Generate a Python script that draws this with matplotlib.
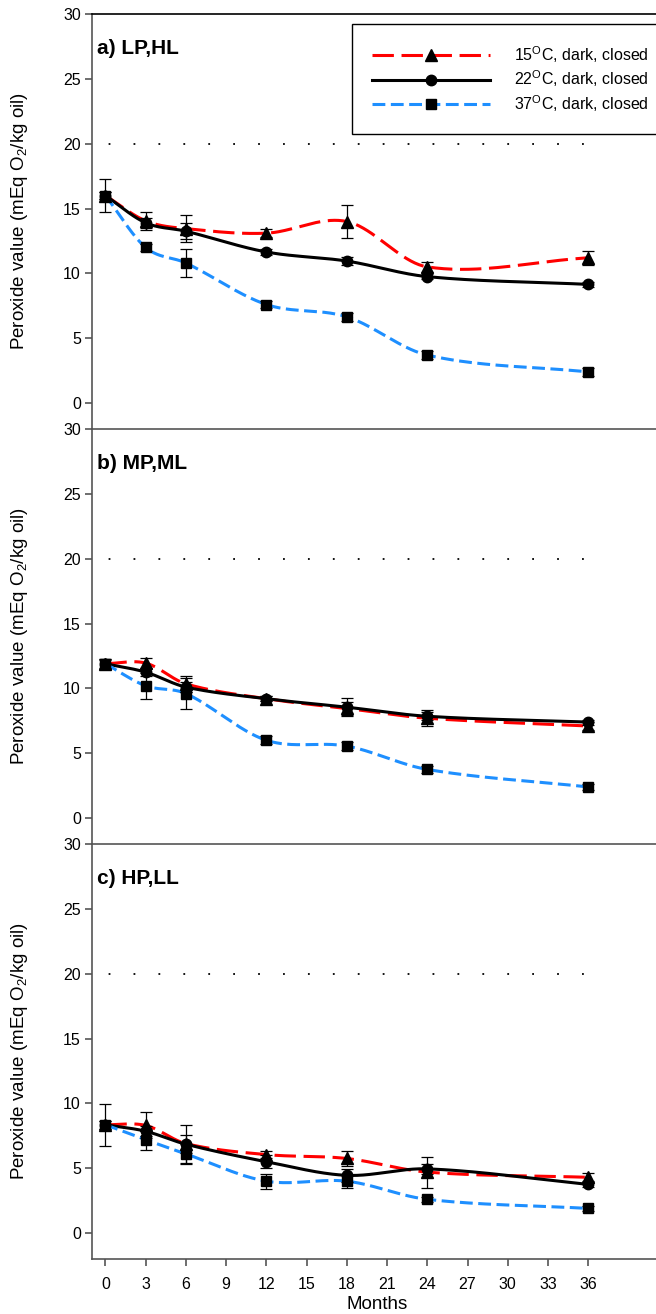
import numpy as np
import matplotlib
matplotlib.use("Agg")
import matplotlib.pyplot as plt

plt.rcParams["font.family"] = ["Liberation Sans", "DejaVu Sans"]
plt.rcParams["mathtext.fontset"] = "custom"
plt.rcParams["mathtext.rm"] = "Liberation Sans"

months = [0, 3, 6, 12, 18, 24, 36]
month_ticks = list(range(0, 37, 3))
panel_titles = ["a) LP,HL", "b) MP,ML", "c) HP,LL"]
series_labels = ["15$^{\\mathregular{O}}$C, dark, closed",
                 "22$^{\\mathregular{O}}$C, dark, closed",
                 "37$^{\\mathregular{O}}$C, dark, closed"]
limit = 20

# a) LP,HL
a_15 = [16.0, 14.05, 13.45, 13.1, 14.0, 10.5, 11.2]
a_15_err = [0.3, 0.7, 1.05, 0.3, 1.3, 0.4, 0.55]
a_22 = [16.0, 13.9, 13.25, 11.65, 10.95, 9.75, 9.15]
a_22_err = [1.3, 0.4, 0.6, 0.2, 0.3, 0.2, 0.2]
a_37 = [16.0, 12.0, 10.8, 7.6, 6.65, 3.7, 2.4]
a_37_err = [0.3, 0.3, 1.1, 0.3, 0.3, 0.3, 0.3]

# b) MP,ML
b_15 = [11.9, 11.95, 10.35, 9.2, 8.45, 7.7, 7.1]
b_15_err = [0.4, 0.4, 0.6, 0.2, 0.5, 0.6, 0.3]
b_22 = [11.9, 11.25, 10.1, 9.2, 8.55, 7.85, 7.4]
b_22_err = [0.4, 0.3, 0.4, 0.2, 0.67, 0.3, 0.2]
b_37 = [11.9, 10.2, 9.6, 6.0, 5.55, 3.75, 2.4]
b_37_err = [0.3, 1.0, 1.2, 0.3, 0.3, 0.3, 0.2]

# c) HP,LL
c_15 = [8.35, 8.3, 6.9, 6.05, 5.75, 4.7, 4.3]
c_15_err = [0.3, 1.0, 0.7, 0.3, 0.6, 1.2, 0.3]
c_22 = [8.35, 7.85, 6.85, 5.5, 4.45, 4.95, 3.75]
c_22_err = [1.63, 0.4, 1.46, 0.5, 0.5, 0.4, 0.2]
c_37 = [8.35, 7.2, 6.1, 4.0, 4.0, 2.6, 1.9]
c_37_err = [0.3, 0.8, 0.77, 0.58, 0.5, 0.2, 0.2]

panels = [(a_15, a_15_err, a_22, a_22_err, a_37, a_37_err),
          (b_15, b_15_err, b_22, b_22_err, b_37, b_37_err),
          (c_15, c_15_err, c_22, c_22_err, c_37, c_37_err)]


def smooth(x, y, n=40):
    # Catmull-Rom style cubic through the points (spline curve look)
    x = np.asarray(x, float)
    y = np.asarray(y, float)
    m = np.empty_like(y)
    m[1:-1] = (y[2:] - y[:-2]) / (x[2:] - x[:-2])
    m[0] = (y[1] - y[0]) / (x[1] - x[0])
    m[-1] = (y[-1] - y[-2]) / (x[-1] - x[-2])
    xs_all, ys_all = [], []
    for i in range(len(x) - 1):
        h = x[i + 1] - x[i]
        t = np.linspace(0, 1, n)
        h00 = 2 * t ** 3 - 3 * t ** 2 + 1
        h10 = t ** 3 - 2 * t ** 2 + t
        h01 = -2 * t ** 3 + 3 * t ** 2
        h11 = t ** 3 - t ** 2
        xs_all.append(x[i] + t * h)
        ys_all.append(h00 * y[i] + h10 * h * m[i] + h01 * y[i + 1] + h11 * h * m[i + 1])
    return np.concatenate(xs_all), np.concatenate(ys_all)


styles = [dict(color="#ff0000", ls=(0, (7, 2.5)), marker="^", ms=8.5),
          dict(color="black", ls="-", marker="o", ms=7.5),
          dict(color="#1e8fff", ls=(0, (4.2, 1.8)), marker="s", ms=7.5)]

W, H = 656, 1314
fig = plt.figure(figsize=(W / 100, H / 100), dpi=100)
grey = "#555555"
left = 92 / W
ax_w = (662 - 92) / W
tops = [14, 429, 844]
ph = 415

for k in range(3):
    ax = fig.add_axes([left, 1 - (tops[k] + ph) / H, ax_w, ph / H])
    vals = panels[k]
    handles = []
    for j in range(3):
        y = vals[2 * j]
        err = vals[2 * j + 1]
        st = styles[j]
        xs, ys = smooth(months, y)
        ax.plot(xs, ys, color=st["color"], ls=st["ls"], lw=2.2, zorder=2 + j)
        ax.errorbar(months, y, yerr=err, fmt="none", ecolor="black",
                    elinewidth=0.9, capsize=4, capthick=0.9, zorder=5)
        ax.plot(months, y, ls="none", marker=st["marker"], ms=st["ms"],
                color="black", zorder=6)
        h, = ax.plot([], [], color=st["color"], ls=st["ls"], lw=2.2,
                     marker=st["marker"], ms=st["ms"], mfc="black", mec="black")
        handles.append(h)
    ax.plot([months[0], months[-1]], [limit, limit], color="black", lw=1.3,
            ls=(11.8, (1.0, 12.8)), zorder=1)
    ax.set_xlim(-1, 41.5)
    ax.set_ylim(-2, 30)
    ax.set_yticks(range(0, 31, 5))
    ax.spines["right"].set_visible(False)
    for s in ["left", "bottom", "top"]:
        ax.spines[s].set_linewidth(1.2)
    ax.spines["left"].set_color(grey)
    ax.spines["bottom"].set_color(grey)
    ax.spines["top"].set_color("black" if k == 0 else grey)
    ax.tick_params(axis="y", direction="out", length=5, width=1.2, color=grey,
                   labelsize=11.5, pad=3)
    ax.set_ylabel("Peroxide value (mEq O$_{\\mathregular{2}}$/kg oil)",
                  fontsize=13.5)
    ax.yaxis.set_label_coords(-0.108, 0.5)
    ax.text(0.009, 0.916, panel_titles[k], transform=ax.transAxes,
            fontsize=15, fontweight="bold", va="center", ha="left")
    if k < 2:
        ax.spines["bottom"].set_visible(False)
        ax.set_xticks([])
    else:
        ax.set_xticks(month_ticks)
        ax.tick_params(axis="x", direction="out", length=5, width=1.2,
                       color=grey, labelsize=11.5, pad=8)
        ax.set_xlabel("Months", fontsize=13.5, labelpad=3)
    if k == 0:
        leg = ax.legend(handles, series_labels, loc="upper left",
                        bbox_to_anchor=(352 / W, 1 - 24 / H),
                        bbox_transform=fig.transFigure, fontsize=11.5,
                        handlelength=7.4, handletextpad=1.5, numpoints=1,
                        labelspacing=0.24, borderpad=1.25, fancybox=False,
                        framealpha=1, edgecolor="black", borderaxespad=0)
        leg.get_frame().set_linewidth(1.0)

fig.savefig("out.png", dpi=100)
